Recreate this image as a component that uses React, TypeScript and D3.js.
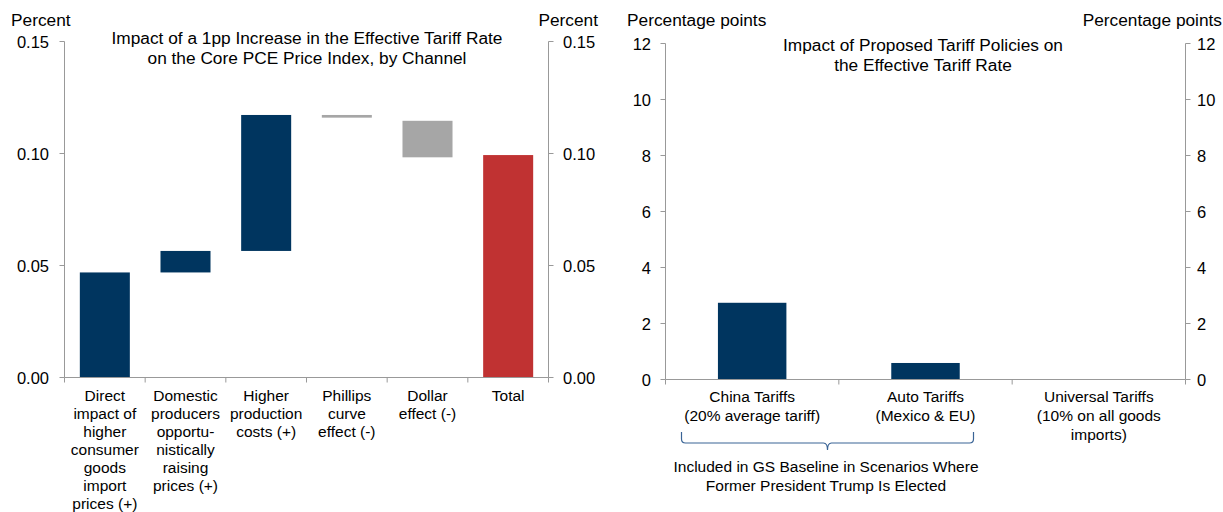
import React from "react";
import * as d3 from "d3";

// Left panel: waterfall of channels through which a 1pp tariff increase lifts core PCE
const channelLabels: string[][] = [
  ["Direct", "impact of", "higher", "consumer", "goods", "import", "prices (+)"],
  ["Domestic", "producers", "opportu-", "nistically", "raising", "prices (+)"],
  ["Higher", "production", "costs (+)"],
  ["Phillips", "curve", "effect (-)"],
  ["Dollar", "effect (-)"],
  ["Total"],
];
const channelLow = [0, 0.0469, 0.0565, 0.116, 0.0983, 0];
const channelHigh = [0.0469, 0.0565, 0.1172, 0.1172, 0.1146, 0.0993];
const channelKind = ["up", "up", "up", "down", "down", "total"];
const leftTicks = [0, 0.05, 0.1, 0.15];

// Right panel: tariff policy proposals and their effect on the effective tariff rate
const policyLabels: string[][] = [
  ["China Tariffs", "(20% average tariff)"],
  ["Auto Tariffs", "(Mexico & EU)"],
  ["Universal Tariffs", "(10% on all goods", "imports)"],
];
const policyValues = [2.74, 0.59, 0];
const rightTicks = [0, 2, 4, 6, 8, 10, 12];

const FONT = "'Liberation Sans', Arial, Helvetica, sans-serif";
const NAVY = "#00355f";
const RED = "#c03232";
const GRAY = "#a6a6a6";
const AXIS = "#999999";

const kindColor: Record<string, string> = { up: NAVY, down: GRAY, total: RED };

export default function App() {
  const width = 1223;
  const height = 512;

  // ---- left panel scales
  const lx = d3
    .scaleBand<number>()
    .domain(d3.range(channelLabels.length))
    .range([64.5, 548.5])
    .padding(0);
  const ly = d3.scaleLinear().domain([0, 0.15]).range([377.5, 41.5]);
  const lBarW = lx.bandwidth() * 0.62;

  // ---- right panel scales
  const rx = d3
    .scaleBand<number>()
    .domain(d3.range(policyLabels.length))
    .range([665.5, 1185.5])
    .padding(0);
  const ry = d3.scaleLinear().domain([0, 12]).range([379.5, 43.5]);
  const rBarW = rx.bandwidth() * 0.395;

  const tickFs = 16.5;
  const catFs = 15.5;
  const titleFs = 17.3;

  const lBoundaries = d3.range(channelLabels.length + 1).map((i) =>
    i < channelLabels.length ? (lx(i) as number) : (lx(i - 1) as number) + lx.bandwidth()
  );
  const rBoundaries = d3.range(policyLabels.length + 1).map((i) =>
    i < policyLabels.length ? (rx(i) as number) : (rx(i - 1) as number) + rx.bandwidth()
  );

  // curly brace under the first two policy categories
  const bx0 = 681.5;
  const bx1 = 973.5;
  const bmid = (bx0 + bx1) / 2;
  const bTop = 432;
  const bLine = 443;
  const bTip = 450;
  const r = 4;
  const bracePath = [
    `M${bx0},${bTop}`,
    `L${bx0},${bLine - r}`,
    `Q${bx0},${bLine} ${bx0 + r},${bLine}`,
    `L${bmid - r},${bLine}`,
    `Q${bmid},${bLine} ${bmid},${bTip}`,
    `Q${bmid},${bLine} ${bmid + r},${bLine}`,
    `L${bx1 - r},${bLine}`,
    `Q${bx1},${bLine} ${bx1},${bLine - r}`,
    `L${bx1},${bTop}`,
  ].join(" ");

  return (
    <svg
      width={width}
      height={height}
      style={{ position: "absolute", left: 0, top: 0, background: "#fff" }}
      fontFamily={FONT}
    >
      {/* ================= LEFT PANEL ================= */}
      <g>
        <text x={11} y={26} fontSize={titleFs} fill="#000">Percent</text>
        <text x={598} y={26} fontSize={titleFs} fill="#000" textAnchor="end">Percent</text>
        <text x={307} y={44} fontSize={titleFs} textAnchor="middle" fill="#000">
          Impact of a 1pp Increase in the Effective Tariff Rate
        </text>
        <text x={307} y={64} fontSize={titleFs} textAnchor="middle" fill="#000">
          on the Core PCE Price Index, by Channel
        </text>

        {channelLabels.map((_, i) => {
          const x0 = (lx(i) as number) + (lx.bandwidth() - lBarW) / 2;
          const yTop = ly(channelHigh[i]);
          const yBot = ly(channelLow[i]);
          return (
            <rect
              key={i}
              x={x0}
              y={yTop}
              width={lBarW}
              height={Math.max(yBot - yTop, 1)}
              fill={kindColor[channelKind[i]]}
            />
          );
        })}

        {/* axes */}
        <line x1={64.5} x2={64.5} y1={ly(0.15)} y2={ly(0)} stroke={AXIS} />
        <line x1={548.5} x2={548.5} y1={ly(0.15)} y2={ly(0)} stroke={AXIS} />
        <line x1={64.5} x2={548.5} y1={ly(0)} y2={ly(0)} stroke={AXIS} />
        {leftTicks.map((t) => (
          <g key={t}>
            <line x1={59.5} x2={64.5} y1={ly(t)} y2={ly(t)} stroke={AXIS} />
            <line x1={548.5} x2={553.5} y1={ly(t)} y2={ly(t)} stroke={AXIS} />
            <text x={49} y={ly(t) + 6} fontSize={tickFs} textAnchor="end" fill="#000">
              {d3.format(".2f")(t)}
            </text>
            <text x={563} y={ly(t) + 6} fontSize={tickFs} fill="#000">
              {d3.format(".2f")(t)}
            </text>
          </g>
        ))}
        {lBoundaries.map((bx, i) => (
          <line key={i} x1={bx} x2={bx} y1={ly(0)} y2={ly(0) + 5} stroke={AXIS} />
        ))}
        {channelLabels.map((lines, i) => (
          <text
            key={i}
            x={(lx(i) as number) + lx.bandwidth() / 2}
            y={401}
            fontSize={catFs}
            textAnchor="middle"
            fill="#000"
          >
            {lines.map((ln, j) => (
              <tspan key={j} x={(lx(i) as number) + lx.bandwidth() / 2} dy={j === 0 ? 0 : 18}>
                {ln}
              </tspan>
            ))}
          </text>
        ))}
      </g>

      {/* ================= RIGHT PANEL ================= */}
      <g>
        <text x={627} y={26} fontSize={titleFs} fill="#000">Percentage points</text>
        <text x={1222} y={26} fontSize={titleFs} fill="#000" textAnchor="end">Percentage points</text>
        <text x={923} y={51} fontSize={titleFs} textAnchor="middle" fill="#000">
          Impact of Proposed Tariff Policies on
        </text>
        <text x={923} y={71} fontSize={titleFs} textAnchor="middle" fill="#000">
          the Effective Tariff Rate
        </text>

        {policyValues.map((v, i) =>
          v > 0 ? (
            <rect
              key={i}
              x={(rx(i) as number) + (rx.bandwidth() - rBarW) / 2}
              y={ry(v)}
              width={rBarW}
              height={ry(0) - ry(v)}
              fill={NAVY}
            />
          ) : null
        )}

        <line x1={665.5} x2={665.5} y1={ry(12)} y2={ry(0)} stroke={AXIS} />
        <line x1={1185.5} x2={1185.5} y1={ry(12)} y2={ry(0)} stroke={AXIS} />
        <line x1={665.5} x2={1185.5} y1={ry(0)} y2={ry(0)} stroke={AXIS} />
        {rightTicks.map((t) => (
          <g key={t}>
            <line x1={660.5} x2={665.5} y1={ry(t)} y2={ry(t)} stroke={AXIS} />
            <line x1={1185.5} x2={1190.5} y1={ry(t)} y2={ry(t)} stroke={AXIS} />
            <text x={651} y={ry(t) + 6} fontSize={tickFs} textAnchor="end" fill="#000">
              {t}
            </text>
            <text x={1197} y={ry(t) + 6} fontSize={tickFs} fill="#000">
              {t}
            </text>
          </g>
        ))}
        {rBoundaries.map((bx, i) => (
          <line key={i} x1={bx} x2={bx} y1={ry(0)} y2={ry(0) + 5} stroke={AXIS} />
        ))}
        {policyLabels.map((lines, i) => (
          <text
            key={i}
            x={(rx(i) as number) + rx.bandwidth() / 2}
            y={402}
            fontSize={catFs}
            textAnchor="middle"
            fill="#000"
          >
            {lines.map((ln, j) => (
              <tspan key={j} x={(rx(i) as number) + rx.bandwidth() / 2} dy={j === 0 ? 0 : 19}>
                {ln}
              </tspan>
            ))}
          </text>
        ))}

        <path d={bracePath} fill="none" stroke="#3a6496" strokeWidth={1.2} />
        <text x={826} y={472} fontSize={catFs} textAnchor="middle" fill="#000">
          Included in GS Baseline in Scenarios Where
        </text>
        <text x={826} y={491} fontSize={catFs} textAnchor="middle" fill="#000">
          Former President Trump Is Elected
        </text>
      </g>
    </svg>
  );
}
